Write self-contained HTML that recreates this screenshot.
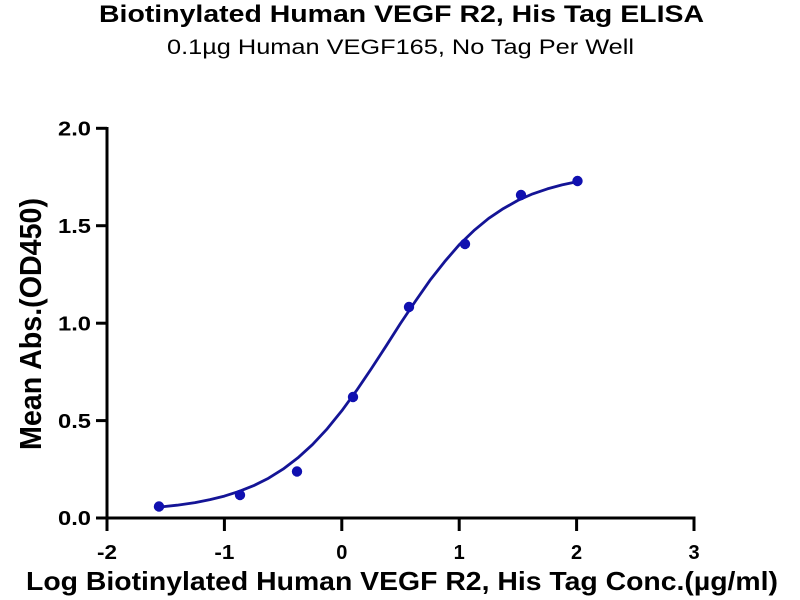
<!DOCTYPE html>
<html>
<head>
<meta charset="utf-8">
<style>
  html, body { margin: 0; padding: 0; background: #ffffff; }
  svg { display: block; }
  text { font-family: "Liberation Sans", Arial, sans-serif; fill: #000; }
</style>
</head>
<body>
<svg width="800" height="600" viewBox="0 0 800 600" xmlns="http://www.w3.org/2000/svg">
  <rect x="0" y="0" width="800" height="600" fill="#ffffff"/>

  <!-- Title -->
  <text x="99" y="22" font-size="24" font-weight="bold" textLength="605" lengthAdjust="spacingAndGlyphs">Biotinylated Human VEGF R2, His Tag ELISA</text>
  <text x="167" y="54" font-size="21" textLength="467" lengthAdjust="spacingAndGlyphs">0.1µg Human VEGF165, No Tag Per Well</text>

  <!-- Axes -->
  <g stroke="#000" stroke-width="3" fill="none" stroke-linecap="butt">
    <line x1="107" y1="127" x2="107" y2="531"/>
    <line x1="105.5" y1="518" x2="695.5" y2="518"/>
    <!-- y ticks -->
    <line x1="96" y1="518" x2="107" y2="518"/>
    <line x1="96" y1="420.6" x2="107" y2="420.6"/>
    <line x1="96" y1="323.2" x2="107" y2="323.2"/>
    <line x1="96" y1="225.7" x2="107" y2="225.7"/>
    <line x1="96" y1="128.3" x2="107" y2="128.3"/>
    <!-- x ticks -->
    <line x1="224.4" y1="518" x2="224.4" y2="531"/>
    <line x1="341.8" y1="518" x2="341.8" y2="531"/>
    <line x1="459.2" y1="518" x2="459.2" y2="531"/>
    <line x1="576.6" y1="518" x2="576.6" y2="531"/>
    <line x1="694" y1="518" x2="694" y2="531"/>
  </g>

  <!-- Y tick labels -->
  <g font-size="20" font-weight="bold" text-anchor="end">
    <text x="91" y="525.2" textLength="33" lengthAdjust="spacingAndGlyphs">0.0</text>
    <text x="91" y="427.8" textLength="33" lengthAdjust="spacingAndGlyphs">0.5</text>
    <text x="91" y="330.4" textLength="33" lengthAdjust="spacingAndGlyphs">1.0</text>
    <text x="91" y="232.9" textLength="33" lengthAdjust="spacingAndGlyphs">1.5</text>
    <text x="91" y="135.5" textLength="33" lengthAdjust="spacingAndGlyphs">2.0</text>
  </g>

  <!-- X tick labels -->
  <g font-size="20" font-weight="bold" text-anchor="middle">
    <text x="107" y="559" textLength="20" lengthAdjust="spacingAndGlyphs">-2</text>
    <text x="224.4" y="559" textLength="20" lengthAdjust="spacingAndGlyphs">-1</text>
    <text x="341.8" y="559">0</text>
    <text x="459.2" y="559">1</text>
    <text x="576.6" y="559">2</text>
    <text x="694" y="559">3</text>
  </g>

  <!-- Axis titles -->
  <text x="26" y="590" font-size="26" font-weight="bold" textLength="752" lengthAdjust="spacingAndGlyphs">Log Biotinylated Human VEGF R2, His Tag Conc.(µg/ml)</text>
  <text transform="translate(41,324) rotate(-90) scale(1,1.1)" x="0" y="0" font-size="28" font-weight="bold" text-anchor="middle" textLength="252" lengthAdjust="spacingAndGlyphs">Mean Abs.(OD450)</text>

  <!-- Fitted curve -->
  <polyline fill="none" stroke="#141496" stroke-width="2.8" stroke-linejoin="round" stroke-linecap="round"
    points="159,507.1 177,505.2 195.1,502.6 210,499.6 224.4,496.1 239,491.4 253.8,485.6 268.5,478.2 283.1,469.1 297.8,457.9 312.5,444.6 327.2,428.8 341.8,410.8 356.5,390.6 371.2,368.9 385.9,346.3 400.5,323.4 415.2,301.5 429.9,280.4 444.6,261.7 459.2,244.8 473.9,230.6 488.6,218.4 503.3,208.6 517.9,200.4 532.6,193.9 547.3,188.9 562,184.9 576.8,181.8"/>

  <!-- Data points -->
  <g fill="#1010b0">
    <circle cx="159" cy="506.5" r="5.2"/>
    <circle cx="240" cy="495" r="5.2"/>
    <circle cx="297" cy="471.5" r="5.2"/>
    <circle cx="353" cy="397" r="5.2"/>
    <circle cx="409" cy="307" r="5.2"/>
    <circle cx="465" cy="244" r="5.2"/>
    <circle cx="521" cy="195" r="5.2"/>
    <circle cx="577.5" cy="181" r="5.2"/>
  </g>
</svg>
</body>
</html>
